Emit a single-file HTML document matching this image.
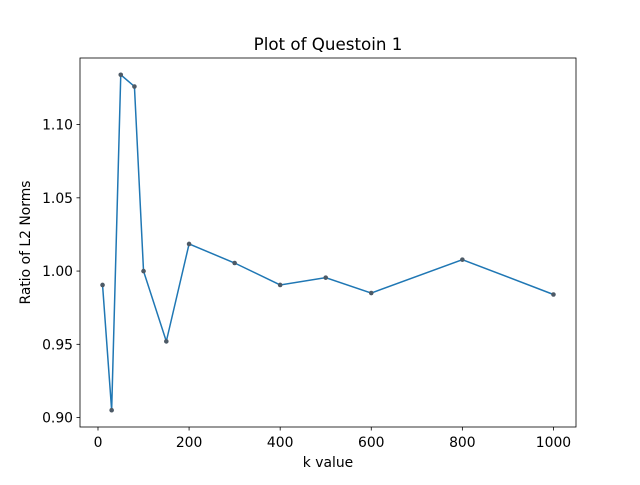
<!DOCTYPE html>
<html><head><meta charset="utf-8"><style>
body{margin:0;background:#fff;}
svg text{font-family:"DejaVu Sans","Liberation Sans",sans-serif;fill:#000;}
</style></head><body>
<svg id="chart" width="640" height="480">
<rect width="640" height="480" fill="#fff"/>
</svg>
<script>
const kValues=[10,30,50,80,100,150,200,300,400,500,600,800,1000];
const ratios=[0.9905,0.905,1.134,1.126,1.000,0.952,1.0185,1.0055,0.9905,0.9955,0.985,1.0078,0.984];
const xTicks=[0,200,400,600,800,1000];
const yTicks=[0.90,0.95,1.00,1.05,1.10];
const yTickLabels=["0.90","0.95","1.00","1.05","1.10"];
const L=80,R=576,T=58,B=427;
const NS="http://www.w3.org/2000/svg";
const svg=document.getElementById('chart');
const xmin=Math.min(...kValues),xmax=Math.max(...kValues),xm=(xmax-xmin)*0.05;
const ymin=Math.min(...ratios),ymax=Math.max(...ratios),ym=(ymax-ymin)*0.05;
const xs=v=>L+(v-(xmin-xm))/((xmax+xm)-(xmin-xm))*(R-L);
const ys=v=>B-(v-(ymin-ym))/((ymax+ym)-(ymin-ym))*(B-T);
function mk(tag,attrs,parent){const e=document.createElementNS(NS,tag);for(const k in attrs)e.setAttribute(k,attrs[k]);(parent||svg).appendChild(e);return e;}
xTicks.forEach(t=>{
  const x=xs(t);
  const tk=mk('line',{x1:x,x2:x,y1:B,y2:B+3.5,stroke:'#000','stroke-width':0.8});
  
  
  const lb=mk('text',{x:x,y:B+20,'text-anchor':'middle','font-size':13.9});
  lb.textContent=t;
  
  
});
yTicks.forEach((t,i)=>{
  const y=ys(t);
  const tk=mk('line',{x1:L-3.5,x2:L,y1:y,y2:y,stroke:'#000','stroke-width':0.8});
  
  
  const lb=mk('text',{x:L-7,y:y+5,'text-anchor':'end','font-size':13.9});
  lb.textContent=yTickLabels[i];
  
  
});
const line=mk('polyline',{points:kValues.map((k,i)=>xs(k)+','+ys(ratios[i])).join(' '),fill:'none',stroke:'#1f77b4','stroke-width':1.5});


kValues.forEach((k,i)=>{
  const c=mk('circle',{cx:xs(k),cy:ys(ratios[i]),r:2.3,fill:'#4d5a66'});
  
  
});
const frame=mk('rect',{x:L,y:T,width:R-L,height:B-T,fill:'none',stroke:'#000','stroke-width':0.8});


const title=mk('text',{x:(L+R)/2,y:T-8,'text-anchor':'middle','font-size':16.7});
title.textContent='Plot of Questoin 1';


const xl=mk('text',{x:(L+R)/2,y:467,'text-anchor':'middle','font-size':13.9});
xl.textContent='k value';


const yl=mk('text',{x:0,y:0,'text-anchor':'middle','font-size':13.9,transform:'translate(30,'+((T+B)/2)+') rotate(-90)'});
yl.textContent='Ratio of L2 Norms';


</script>
</body></html>
